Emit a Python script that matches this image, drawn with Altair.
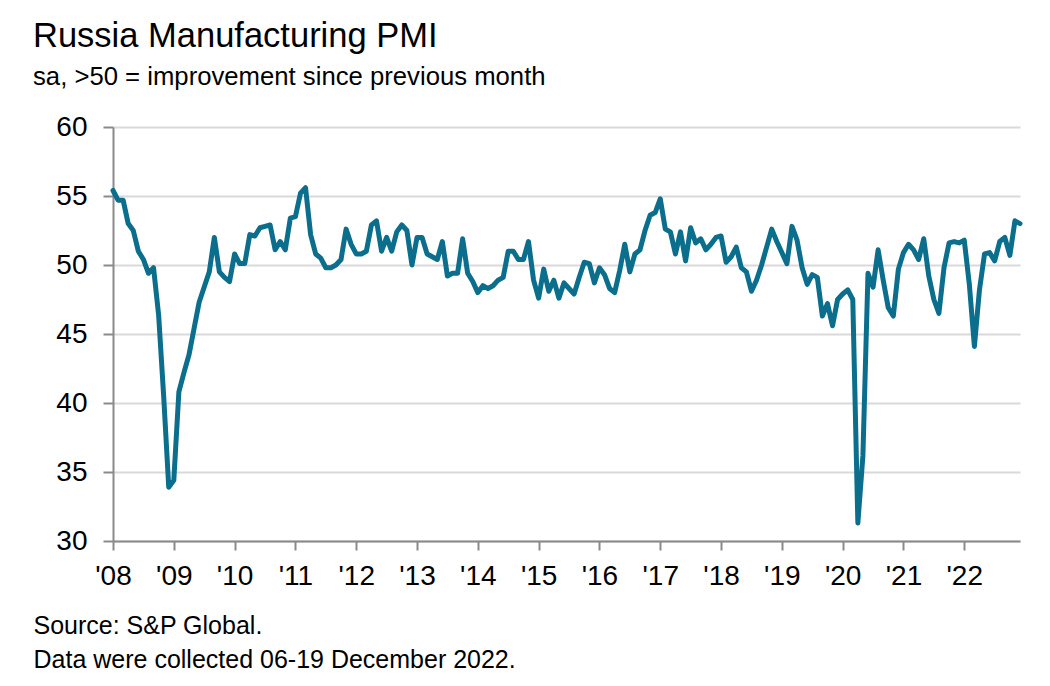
import json
import altair as alt
import pandas as pd

# Russia Manufacturing PMI, monthly (sa), Jan 2008 - Dec 2022
pmi_2008 = [55.4, 54.7, 54.7, 53.0, 52.5, 51.0, 50.4, 49.4, 49.8, 46.4, 40.5, 33.9]
pmi_2009 = [34.4, 40.8, 42.2, 43.5, 45.4, 47.3, 48.4, 49.5, 52.0, 49.5, 49.1, 48.8]
pmi_2010 = [50.8, 50.1, 50.1, 52.2, 52.1, 52.7, 52.8, 52.9, 51.1, 51.7, 51.1, 53.4]
pmi_2011 = [53.5, 55.2, 55.6, 52.2, 50.8, 50.5, 49.8, 49.8, 50.0, 50.4, 52.6, 51.5]
pmi_2012 = [50.8, 50.8, 51.0, 52.9, 53.2, 51.0, 52.0, 51.0, 52.4, 52.9, 52.5, 50.0]
pmi_2013 = [52.0, 52.0, 50.8, 50.6, 50.4, 51.7, 49.2, 49.4, 49.4, 51.9, 49.4, 48.8]
pmi_2014 = [48.0, 48.5, 48.3, 48.5, 48.9, 49.1, 51.0, 51.0, 50.4, 50.4, 51.7, 48.9]
pmi_2015 = [47.6, 49.7, 48.1, 48.9, 47.6, 48.7, 48.3, 47.9, 49.1, 50.2, 50.1, 48.7]
pmi_2016 = [49.8, 49.3, 48.3, 48.0, 49.6, 51.5, 49.5, 50.8, 51.1, 52.5, 53.6, 53.8]
pmi_2017 = [54.8, 52.6, 52.4, 50.8, 52.4, 50.3, 52.7, 51.6, 51.9, 51.1, 51.5, 52.0]
pmi_2018 = [52.1, 50.2, 50.6, 51.3, 49.8, 49.5, 48.1, 48.9, 50.0, 51.3, 52.6, 51.7]
pmi_2019 = [50.9, 50.1, 52.8, 51.8, 49.8, 48.6, 49.3, 49.1, 46.3, 47.2, 45.6, 47.5]
pmi_2020 = [47.9, 48.2, 47.5, 31.3, 36.2, 49.4, 48.4, 51.1, 48.9, 46.9, 46.3, 49.7]
pmi_2021 = [50.9, 51.5, 51.1, 50.4, 51.9, 49.2, 47.5, 46.5, 49.8, 51.6, 51.7, 51.6]
pmi_2022 = [51.8, 48.6, 44.1, 48.2, 50.8, 50.9, 50.3, 51.7, 52.0, 50.7, 53.2, 53.0]

tick_labels = ["'08", "'09", "'10", "'11", "'12", "'13", "'14", "'15",
               "'16", "'17", "'18", "'19", "'20", "'21", "'22"]
y_ticks = [30, 35, 40, 45, 50, 55, 60]

title_text = "Russia Manufacturing PMI"
subtitle_text = "sa, >50 = improvement since previous month"
footer_lines = ["Source: S&P Global.", "Data were collected 06-19 December 2022."]

values = (pmi_2008 + pmi_2009 + pmi_2010 + pmi_2011 + pmi_2012 + pmi_2013 +
          pmi_2014 + pmi_2015 + pmi_2016 + pmi_2017 + pmi_2018 + pmi_2019 +
          pmi_2020 + pmi_2021 + pmi_2022)
df = pd.DataFrame({"month": list(range(len(values))), "pmi": values})

FONT = "Liberation Sans"
label_expr = json.dumps(tick_labels) + "[round(datum.value / 12)]"

chart = alt.Chart(df).mark_line(
    color="#0b6e8c", strokeWidth=5, strokeJoin="round", strokeCap="round"
).encode(
    x=alt.X(
        "month:Q",
        scale=alt.Scale(domain=[0, len(values) - 1], nice=False, zero=False),
        axis=alt.Axis(
            values=[12 * i for i in range(len(tick_labels))],
            labelExpr=label_expr,
            grid=False,
            domainColor="#8a8a8a", domainWidth=2,
            tickColor="#8a8a8a", tickWidth=2, tickSize=9,
            labelFont=FONT, labelFontSize=28, labelColor="#000000",
            labelPadding=12, labelFlush=False, labelOverlap=False,
            title=footer_lines,
            titleFont=FONT, titleFontSize=25, titleFontWeight="normal",
            titleColor="#000000", titleAlign="left", titleBaseline="alphabetic",
            titleX=-80, titleY=92, titleLineHeight=34,
        ),
    ),
    y=alt.Y(
        "pmi:Q",
        scale=alt.Scale(domain=[30, 60], nice=False, zero=False),
        axis=alt.Axis(
            values=y_ticks,
            grid=True, gridColor="#d9d9d9", gridWidth=2,
            domainColor="#8a8a8a", domainWidth=2,
            tickColor="#8a8a8a", tickWidth=2, tickSize=10,
            labelFont=FONT, labelFontSize=28, labelColor="#000000",
            labelPadding=16,
            title=None,
        ),
    ),
).properties(
    width=907,
    height=414,
    title=alt.TitleParams(
        text=title_text,
        subtitle=subtitle_text,
        anchor="start",
        frame="group",
        dx=-80,
        offset=22,
        font=FONT,
        fontSize=34.5,
        fontWeight="normal",
        color="#000000",
        subtitleFont=FONT,
        subtitleFontSize=25.7,
        subtitleColor="#000000",
        subtitlePadding=11,
    ),
    autosize=alt.AutoSizeParams(type="none"),
    padding={"left": 105, "top": 119, "right": 12, "bottom": 130},
).configure_view(stroke=None)

chart.save("out.html", embed_options={"renderer": "svg", "actions": False})
